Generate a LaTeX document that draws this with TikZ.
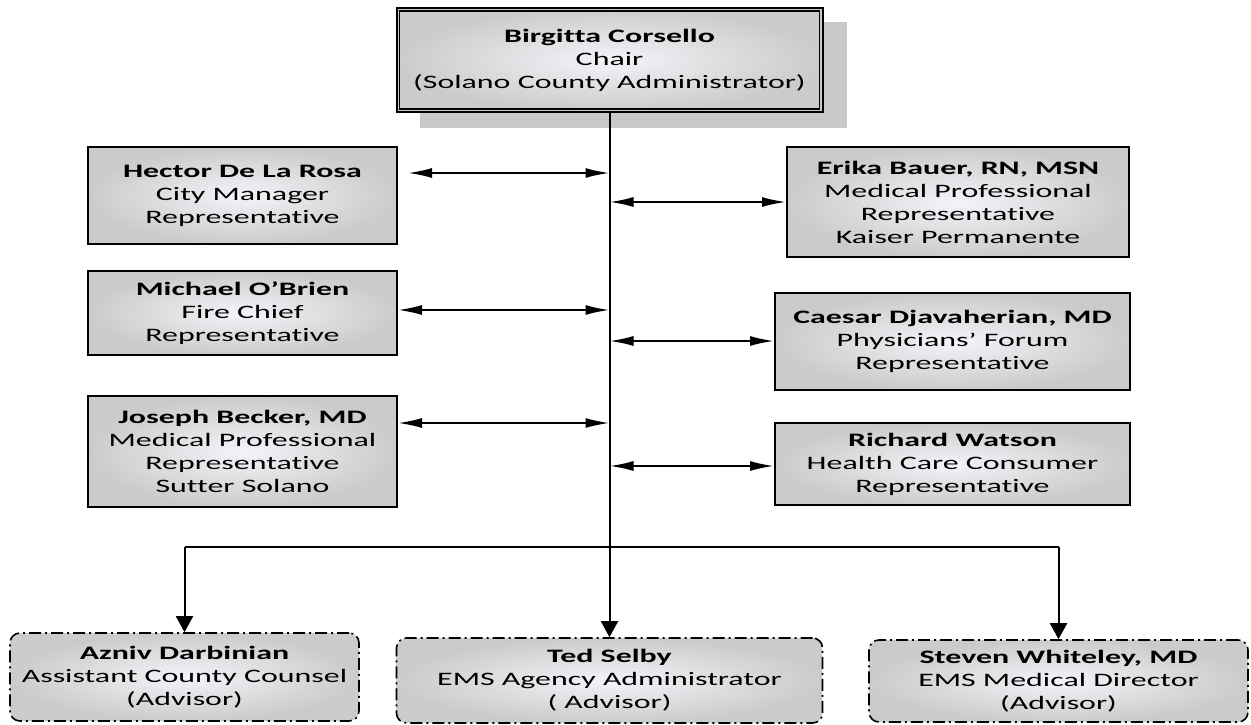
\documentclass[tikz,border=0pt]{standalone}
\usepackage{fontspec}
\setmainfont{Carlito}[FakeStretch=1.68, Ligatures={NoCommon,NoContextual,NoRare}, RawFeature={-liga;-clig;-calt;-dlig}]
\usetikzlibrary{arrows.meta,calc}
\definecolor{boxin}{HTML}{F2F4F8}
\definecolor{boxout}{HTML}{CBCBCB}
\definecolor{shadowgray}{HTML}{C8C8C8}
\tikzset{
  orgbox/.style={draw=black, line width=2pt, inner sep=0pt, align=center,
    inner color=boxin, outer color=boxout,
    font=\fontsize{19}{23}\selectfont},
  advbox/.style={orgbox, line width=1.6pt, rounded corners=10pt,
    dash pattern=on 12pt off 4pt on 2pt off 4pt},
  shadowbox/.style={fill=shadowgray, draw=none, inner sep=0pt},
  conn/.style={draw=black, line width=2pt},
  dbl/.style={conn, {Latex[length=24pt,width=10pt]}-{Latex[length=24pt,width=10pt]}},
  down/.style={conn, -{Triangle[length=16pt,width=17pt]}},
}
\begin{document}
\begin{tikzpicture}[x=1pt,y=-1pt]
\useasboundingbox (0,0) rectangle (1251,725);
% shadow and chair
\node[shadowbox, minimum width=427pt, minimum height=106pt] (chairshadow) at (633.5,75) {};
\node[orgbox, minimum width=426pt, minimum height=104pt] (chair) at (609.5,60)
  {\textbf{Birgitta Corsello}\\Chair\\(Solano County Administrator)};
\draw[line width=1.3pt] ([shift={(4,4)}]chair.north west) rectangle ([shift={(-4,-4)}]chair.south east);
% left boxes
\node[orgbox, minimum width=309pt, minimum height=97pt] (hector) at (242.5,195.5)
  {\textbf{Hector De La Rosa}\\City Manager\\Representative};
\node[orgbox, minimum width=309pt, minimum height=84pt] (michael) at (242.5,313)
  {\textbf{Michael O’Brien}\\Fire Chief\\Representative};
\node[orgbox, minimum width=309pt, minimum height=111pt] (joseph) at (242.5,451.5)
  {\textbf{Joseph Becker, MD}\\Medical Professional\\Representative\\Sutter Solano};
% right boxes
\node[orgbox, minimum width=342pt, minimum height=110pt] (erika) at (958,202)
  {\textbf{Erika Bauer, RN, MSN}\\Medical Professional\\Representative\\Kaiser Permanente};
\node[orgbox, minimum width=355pt, minimum height=97pt] (caesar) at (952.5,341.5)
  {\textbf{Caesar Djavaherian, MD}\\Physicians’ Forum\\Representative};
\node[orgbox, minimum width=355pt, minimum height=82pt] (richard) at (952.5,464)
  {\textbf{Richard Watson}\\Health Care Consumer\\Representative};
% advisors
\node[advbox, minimum width=349pt, minimum height=88pt] (azniv) at (184.5,677)
  {\textbf{Azniv Darbinian}\\Assistant County Counsel\\(Advisor)};
\node[advbox, minimum width=426pt, minimum height=85pt] (ted) at (609.5,680.5)
  {\textbf{Ted Selby}\\EMS Agency Administrator\\( Advisor)};
\node[advbox, minimum width=379pt, minimum height=82pt] (steven) at (1058.5,681)
  {\textbf{Steven Whiteley, MD}\\EMS Medical Director\\(Advisor)};
% spine
\coordinate (jn) at (609.5,547);
\coordinate (sh) at (609.5,173);
\coordinate (se) at (609.5,202);
\coordinate (sm) at (609.5,310);
\coordinate (sc) at (609.5,341);
\coordinate (sj) at (609.5,423);
\coordinate (sr) at (609.5,466);
\draw[conn] (chair.south) -- (jn);
\draw[dbl, shorten <=10pt] (hector.east |- sh) -- (sh);
\draw[dbl] (michael.east |- sm) -- (sm);
\draw[dbl] (joseph.east |- sj) -- (sj);
\draw[dbl] (se) -- (erika.west |- se);
\draw[dbl] (sc) -- (caesar.west |- sc);
\draw[dbl] (sr) -- (richard.west |- sr);
% bottom
\draw[conn] (jn -| azniv.north) -- (jn -| steven.north);
\draw[down] (jn -| azniv.north) -- (azniv.north);
\draw[down] (jn) -- (ted.north);
\draw[down] (jn -| steven.north) -- (steven.north);
\end{tikzpicture}
\end{document}
